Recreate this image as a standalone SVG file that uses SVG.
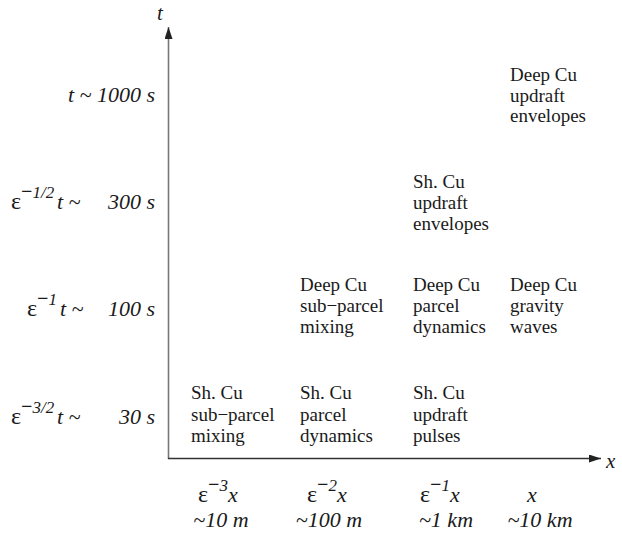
<svg xmlns="http://www.w3.org/2000/svg" width="622" height="534" viewBox="0 0 622 534">
<defs>
<marker id="arrow" viewBox="0 0 12 8" refX="12" refY="4" markerWidth="12" markerHeight="8" markerUnits="userSpaceOnUse" orient="auto">
<path d="M0 0 L12 4 L0 8 Z" fill="#222"/>
</marker>
</defs>
<g id="connectors" fill="none" stroke-width="1.6">
<line id="t-axis" x1="168.5" y1="459" x2="168.5" y2="27" stroke="#777" marker-end="url(#arrow)"/>
<line id="x-axis" x1="168" y1="458.5" x2="601" y2="458.5" stroke="#333" marker-end="url(#arrow)"/>
</g>

<g id="axis-t"><text style="font-family:'Liberation Serif',serif" font-style="italic" font-size="21" fill="#1a1a1a" x="157" y="20">t</text></g>
<g id="axis-x"><text style="font-family:'Liberation Serif',serif" font-style="italic" font-size="21" fill="#1a1a1a" x="606" y="468">x</text></g>

<g id="tlabel-1000"><text style="font-family:'Liberation Serif',serif" font-style="italic" font-size="22" fill="#1a1a1a" x="155" y="102" text-anchor="end">t ~ 1000 s</text></g>
<g id="tlabel-300">
<text style="font-family:'Liberation Serif',serif" font-size="24" fill="#1a1a1a" x="11" y="209">ε<tspan font-size="20" font-weight="bold" dy="-11">−</tspan><tspan font-size="17" font-style="italic">1/2</tspan><tspan font-size="22" font-style="italic" x="57" dy="11">t ~</tspan></text>
<text style="font-family:'Liberation Serif',serif" font-style="italic" font-size="22" fill="#1a1a1a" x="155" y="209" text-anchor="end">300 s</text>
</g>
<g id="tlabel-100">
<text style="font-family:'Liberation Serif',serif" font-size="24" fill="#1a1a1a" x="27" y="316">ε<tspan font-size="20" font-weight="bold" dy="-11">−</tspan><tspan font-size="17" font-style="italic">1</tspan><tspan font-size="22" font-style="italic" x="60" dy="11">t ~</tspan></text>
<text style="font-family:'Liberation Serif',serif" font-style="italic" font-size="22" fill="#1a1a1a" x="155" y="316" text-anchor="end">100 s</text>
</g>
<g id="tlabel-30">
<text style="font-family:'Liberation Serif',serif" font-size="24" fill="#1a1a1a" x="11" y="424">ε<tspan font-size="20" font-weight="bold" dy="-11">−</tspan><tspan font-size="17" font-style="italic">3/2</tspan><tspan font-size="22" font-style="italic" x="57" dy="11">t ~</tspan></text>
<text style="font-family:'Liberation Serif',serif" font-style="italic" font-size="22" fill="#1a1a1a" x="155" y="424" text-anchor="end">30 s</text>
</g>

<g id="xlabel-1">
<text style="font-family:'Liberation Serif',serif" font-size="24" fill="#1a1a1a" x="198" y="502">ε<tspan font-size="20" font-weight="bold" dy="-11">−</tspan><tspan font-size="17" font-style="italic">3</tspan><tspan font-size="22" font-style="italic" dy="11">x</tspan></text>
<text style="font-family:'Liberation Serif',serif" font-style="italic" font-size="22" fill="#1a1a1a" x="221" y="527" text-anchor="middle">~10 m</text>
</g>
<g id="xlabel-2">
<text style="font-family:'Liberation Serif',serif" font-size="24" fill="#1a1a1a" x="307" y="502">ε<tspan font-size="20" font-weight="bold" dy="-11">−</tspan><tspan font-size="17" font-style="italic">2</tspan><tspan font-size="22" font-style="italic" dy="11">x</tspan></text>
<text style="font-family:'Liberation Serif',serif" font-style="italic" font-size="22" fill="#1a1a1a" x="329" y="527" text-anchor="middle">~100 m</text>
</g>
<g id="xlabel-3">
<text style="font-family:'Liberation Serif',serif" font-size="24" fill="#1a1a1a" x="420" y="502">ε<tspan font-size="20" font-weight="bold" dy="-11">−</tspan><tspan font-size="17" font-style="italic">1</tspan><tspan font-size="22" font-style="italic" dy="11">x</tspan></text>
<text style="font-family:'Liberation Serif',serif" font-style="italic" font-size="22" fill="#1a1a1a" x="446" y="527" text-anchor="middle">~1 km</text>
</g>
<g id="xlabel-4">
<text style="font-family:'Liberation Serif',serif" font-style="italic" font-size="22" fill="#1a1a1a" x="532" y="502" text-anchor="middle">x</text>
<text style="font-family:'Liberation Serif',serif" font-style="italic" font-size="22" fill="#1a1a1a" x="540" y="527" text-anchor="middle">~10 km</text>
</g>

<g id="deep-updraft-envelopes"><text style="font-family:'Liberation Serif',serif" font-size="19" fill="#1a1a1a" x="510" y="81">Deep Cu<tspan x="510" dy="20.5">updraft</tspan><tspan x="510" dy="20.5">envelopes</tspan></text></g>
<g id="sh-updraft-envelopes"><text style="font-family:'Liberation Serif',serif" font-size="19" fill="#1a1a1a" x="413" y="188">Sh. Cu<tspan x="413" dy="21">updraft</tspan><tspan x="413" dy="21">envelopes</tspan></text></g>
<g id="deep-subparcel-mixing"><text style="font-family:'Liberation Serif',serif" font-size="19" fill="#1a1a1a" x="300" y="291">Deep Cu<tspan x="300" dy="21">sub−parcel</tspan><tspan x="300" dy="21">mixing</tspan></text></g>
<g id="deep-parcel-dynamics"><text style="font-family:'Liberation Serif',serif" font-size="19" fill="#1a1a1a" x="413" y="291">Deep Cu<tspan x="413" dy="21">parcel</tspan><tspan x="413" dy="21">dynamics</tspan></text></g>
<g id="deep-gravity-waves"><text style="font-family:'Liberation Serif',serif" font-size="19" fill="#1a1a1a" x="510" y="291">Deep Cu<tspan x="510" dy="21">gravity</tspan><tspan x="510" dy="21">waves</tspan></text></g>
<g id="sh-subparcel-mixing"><text style="font-family:'Liberation Serif',serif" font-size="19" fill="#1a1a1a" x="191" y="399">Sh. Cu<tspan x="191" dy="21.5">sub−parcel</tspan><tspan x="191" dy="21.5">mixing</tspan></text></g>
<g id="sh-parcel-dynamics"><text style="font-family:'Liberation Serif',serif" font-size="19" fill="#1a1a1a" x="300" y="399">Sh. Cu<tspan x="300" dy="21.5">parcel</tspan><tspan x="300" dy="21.5">dynamics</tspan></text></g>
<g id="sh-updraft-pulses"><text style="font-family:'Liberation Serif',serif" font-size="19" fill="#1a1a1a" x="413" y="399">Sh. Cu<tspan x="413" dy="21.5">updraft</tspan><tspan x="413" dy="21.5">pulses</tspan></text></g>
</svg>
